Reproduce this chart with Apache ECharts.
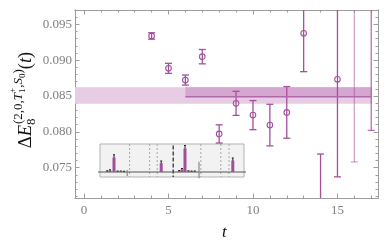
<!DOCTYPE html>
<html><head><meta charset="utf-8">
<script src="https://cdn.jsdelivr.net/npm/echarts@6/dist/echarts.min.js"></script>
<style>html,body{margin:0;padding:0;background:#fff}#c{width:390px;height:248px}</style>
</head><body><div id="c"></div>
<script>
// ---- data ----
const tVals  = [4, 5, 6, 7, 8, 9, 10, 11, 12, 13, 14, 15, 16, 17];
const dE     = [0.09337, 0.08885, 0.08722, 0.09048, 0.07971, 0.08397, 0.08233, 0.08094, 0.08271, 0.09374, 0.0695, 0.08732, 0.0985, 0.0990];
const dEerr  = [0.00045, 0.0007, 0.0007, 0.0010, 0.00127, 0.00168, 0.00203, 0.0029, 0.0036, 0.00535, 0.0074, 0.0136, 0.0227, 0.0188];
const fitLow = 0.0839, fitHigh = 0.0862;          // full-width band
const fitCentral = 0.0849;                         // fit value
const fitInnerLow = 0.0849, fitInnerHigh = 0.0862; // fit-range band
const fitRange = [6, 17];
const xLabels = [0, 5, 10, 15];
const xTicks = [0,1,2,3,4,5,6,7,8,9,10,11,12,13,14,15,16,17];
const yLabels = [0.075, 0.080, 0.085, 0.090, 0.095];
const yTicks = [0.071,0.072,0.073,0.074,0.075,0.076,0.077,0.078,0.079,0.080,0.081,0.082,0.083,0.084,0.085,0.086,0.087,0.088,0.089,0.090,0.091,0.092,0.093,0.094,0.095,0.096];
// inset (overlap-factor histogram)
const insetX   = [1.8, 2.5, 3.5, 4.4, 5.2, 6.0, 15.3, 19.8, 20.5, 21.25, 22.1, 22.9, 23.7, 33.2];
const insetH   = [0.15, 0.3, 2.9, 0.1, 0.1, 0.05, 1.75, 0.2, 0.5, 4.7, 0.15, 0.1, 0.1, 2.3];
const insetErr = [0.1, 0.15, 0.55, 0.1, 0.1, 0.1, 0.45, 0.1, 0.2, 0.6, 0.1, 0.1, 0.1, 0.5];
const insetDashed = [7.4, 12.4, 14.3, 25.2, 30.2, 32.25];
const insetDivider = [18.3];
const insetSpikes = [[6.8, -0.8, 0.4], [24.75, -1.26, 2.06]];

// ---- styles ----
const PURPLE = '#a3509d';
const faded = {16: 0.5, 17: 0.8};
const AX = '#9c9c9c';
const SERIF = 'Liberation Serif';

const chart = echarts.init(document.getElementById('c'), null, {renderer: 'canvas'});

function mkX(pos, vals, len, labels) {
  return {type: 'value', gridIndex: 0, position: pos, min: -0.533, max: 17.40,
    axisLine: {show: true, onZero: false, lineStyle: {color: AX, width: 1}},
    axisTick: {show: true, inside: true, length: len, customValues: vals, lineStyle: {color: AX}},
    axisLabel: labels ? {show: true, customValues: labels, color: '#808080', fontFamily: SERIF, fontSize: 13, margin: 6} : {show: false},
    splitLine: {show: false}};
}
function mkY(pos, vals, len, labels) {
  return {type: 'value', gridIndex: 0, position: pos, min: 0.07077, max: 0.09699,
    axisLine: {show: true, onZero: false, lineStyle: {color: AX, width: 1}},
    axisTick: {show: true, inside: true, length: len, customValues: vals, lineStyle: {color: AX}},
    axisLabel: labels ? {show: true, customValues: labels, color: '#808080', fontFamily: SERIF, fontSize: 13, margin: 3,
      formatter: v => v.toFixed(3)} : {show: false},
    splitLine: {show: false}};
}

const xAxes = [mkX('bottom', xTicks, 2.5, xLabels), mkX('bottom', xLabels, 4.5, null),
               mkX('top', xTicks, 2.5, null), mkX('top', xLabels, 4.5, null),
               {type: 'value', gridIndex: 1, min: 0, max: 36, show: false}];
const yAxes = [mkY('left', yTicks, 2.5, yLabels), mkY('left', yLabels, 4.5, null),
               mkY('right', yTicks, 2.5, null), mkY('right', yLabels, 4.5, null),
               {type: 'value', gridIndex: 1, min: -1, max: 5.6, show: false}];

// y-axis title built from measured pieces
const meas = document.createElement('canvas').getContext('2d');
function w(txt, size, italic) { meas.font = (italic ? 'italic ' : '') + size + 'px "' + SERIF + '"'; return meas.measureText(txt).width; }
const F = 18.5, S = 13, SS = 9;
const pieces = [];
let cx = 0;
function put(txt, size, italic, dy, advance) {
  pieces.push({type: 'text', x: cx, y: dy, style: {text: txt, fontSize: size, fontFamily: SERIF, fontStyle: italic ? 'italic' : 'normal', fill: '#111', verticalAlign: 'middle', align: 'left'}});
  const ww = w(txt, size, italic);
  if (advance !== false) cx += ww;
  return ww;
}
put('Δ', F, false, 0); put('E', F, true, 0);
const subStart = cx;
put('8', S, false, 6, false);
cx = subStart + 1;
put('(2,0,', S, false, -7.5); put('T', S, true, -7.5);
const tt = cx;
put('+', SS, false, -13, false); put('1', SS, false, -3.5, false);
cx = tt + w('+', SS, false);
put(',', S, false, -7.5); put('S', S, true, -7.5); put('0', SS, false, -3.5); put(')', S, false, -7.5);
put('(', F, false, 0); put('t', F, true, 0); put(')', F, false, 0);
const totalLen = cx;

const option = {
  animation: false,
  grid: [
    {left: 75, right: 12, top: 10, bottom: 50, show: false},
    {left: 100, top: 144, width: 144, height: 33, show: true, backgroundColor: '#f2f2f2', borderColor: '#b3b3b3', borderWidth: 1}
  ],
  xAxis: xAxes,
  yAxis: yAxes,
  graphic: [
    {type: 'group', x: 26, y: 100 + totalLen / 2, rotation: Math.PI / 2, children: pieces},
    {type: 'text', left: 222, top: 224, style: {text: 't', fontSize: 17, fontFamily: SERIF, fontStyle: 'italic', fill: '#111'}}
  ],
  series: [
    {type: 'custom', xAxisIndex: 0, yAxisIndex: 0, clip: true, silent: true,
     data: [[-1, 17.05, fitLow, fitHigh]],
     renderItem: (p, api) => {
       const a = api.coord([api.value(0), api.value(3)]), b = api.coord([api.value(1), api.value(2)]);
       return {type: 'rect', shape: {x: a[0], y: a[1], width: b[0] - a[0], height: b[1] - a[1]}, style: {fill: '#e6cde4'}};
     }},
    {type: 'custom', xAxisIndex: 0, yAxisIndex: 0, clip: true, silent: true,
     data: [[fitRange[0], fitRange[1], fitInnerLow, fitInnerHigh]],
     renderItem: (p, api) => {
       const a = api.coord([api.value(0), api.value(3)]), b = api.coord([api.value(1), api.value(2)]);
       return {type: 'rect', shape: {x: a[0], y: a[1], width: b[0] - a[0], height: b[1] - a[1]}, style: {fill: '#d4a6d0'}};
     }},
    {type: 'line', xAxisIndex: 0, yAxisIndex: 0, symbol: 'none', silent: true,
     data: [[fitRange[0], fitCentral], [fitRange[1], fitCentral]],
     lineStyle: {color: '#b167ab', width: 1.5}},
    {type: 'custom', xAxisIndex: 0, yAxisIndex: 0, clip: true, silent: true,
     data: tVals.map((t, i) => [t, dE[i], dEerr[i]]),
     renderItem: (p, api) => {
       const t = api.value(0), v = api.value(1), e = api.value(2);
       const top = api.coord([t, v + e]), bot = api.coord([t, v - e]), c = api.coord([t, v]);
       const op = faded[t] || 1;
       const st = {stroke: PURPLE, lineWidth: 1.3, opacity: op};
       return {type: 'group', children: [
         {type: 'line', shape: {x1: top[0], y1: top[1], x2: bot[0], y2: bot[1]}, style: st},
         {type: 'line', shape: {x1: top[0] - 3.5, y1: top[1], x2: top[0] + 3.5, y2: top[1]}, style: st},
         {type: 'line', shape: {x1: bot[0] - 3.5, y1: bot[1], x2: bot[0] + 3.5, y2: bot[1]}, style: st},
         {type: 'circle', shape: {cx: c[0], cy: c[1], r: 2.8}, style: {stroke: PURPLE, fill: 'rgba(0,0,0,0)', lineWidth: 1.1, opacity: op}}
       ]};
     }},
    // inset
    {type: 'custom', xAxisIndex: 4, yAxisIndex: 4, silent: true,
     data: insetDashed.map(x => [x]),
     renderItem: (p, api) => {
       const a = api.coord([api.value(0), 5.6]), b = api.coord([api.value(0), -1]);
       return {type: 'line', shape: {x1: a[0], y1: a[1], x2: b[0], y2: b[1]}, style: {stroke: '#a8a8a8', lineWidth: 1, lineDash: [2, 2]}};
     }},
    {type: 'custom', xAxisIndex: 4, yAxisIndex: 4, silent: true,
     data: insetDivider.map(x => [x]),
     renderItem: (p, api) => {
       const a = api.coord([api.value(0), 5.3]), b = api.coord([api.value(0), -1]);
       return {type: 'line', shape: {x1: a[0], y1: a[1], x2: b[0], y2: b[1]}, style: {stroke: '#222', lineWidth: 1.2, lineDash: [4, 2]}};
     }},
    {type: 'custom', xAxisIndex: 4, yAxisIndex: 4, silent: true,
     data: [[-0.5, 36.5]],
     renderItem: (p, api) => {
       const a = api.coord([api.value(0), 0]), b = api.coord([api.value(1), 0]);
       return {type: 'line', shape: {x1: a[0], y1: a[1], x2: b[0], y2: b[1]}, style: {stroke: '#555', lineWidth: 1}};
     }},
    {type: 'custom', xAxisIndex: 4, yAxisIndex: 4, silent: true,
     data: insetSpikes,
     renderItem: (p, api) => {
       const a = api.coord([api.value(0), api.value(2)]), b = api.coord([api.value(0), api.value(1)]);
       return {type: 'line', shape: {x1: a[0], y1: a[1], x2: b[0], y2: b[1]}, style: {stroke: '#8a8a8a', lineWidth: 1.2}};
     }},
    {type: 'bar', xAxisIndex: 4, yAxisIndex: 4, silent: true, barWidth: 3,
     data: insetX.map((x, i) => [x, insetH[i]]),
     itemStyle: {color: '#a14e9b'}},
    {type: 'custom', xAxisIndex: 4, yAxisIndex: 4, silent: true,
     data: insetX.map((x, i) => [x, insetH[i], insetErr[i]]),
     renderItem: (p, api) => {
       const x = api.value(0), h = api.value(1), e = api.value(2);
       const a = api.coord([x, h + e]), b = api.coord([x, h - e]);
       const st = {stroke: '#222', lineWidth: 1};
       return {type: 'group', children: [
         {type: 'line', shape: {x1: a[0], y1: a[1], x2: b[0], y2: b[1]}, style: st},
         {type: 'line', shape: {x1: a[0] - 1, y1: a[1], x2: a[0] + 1, y2: a[1]}, style: st}
       ]};
     }}
  ]
};
chart.setOption(option);
</script></body></html>
